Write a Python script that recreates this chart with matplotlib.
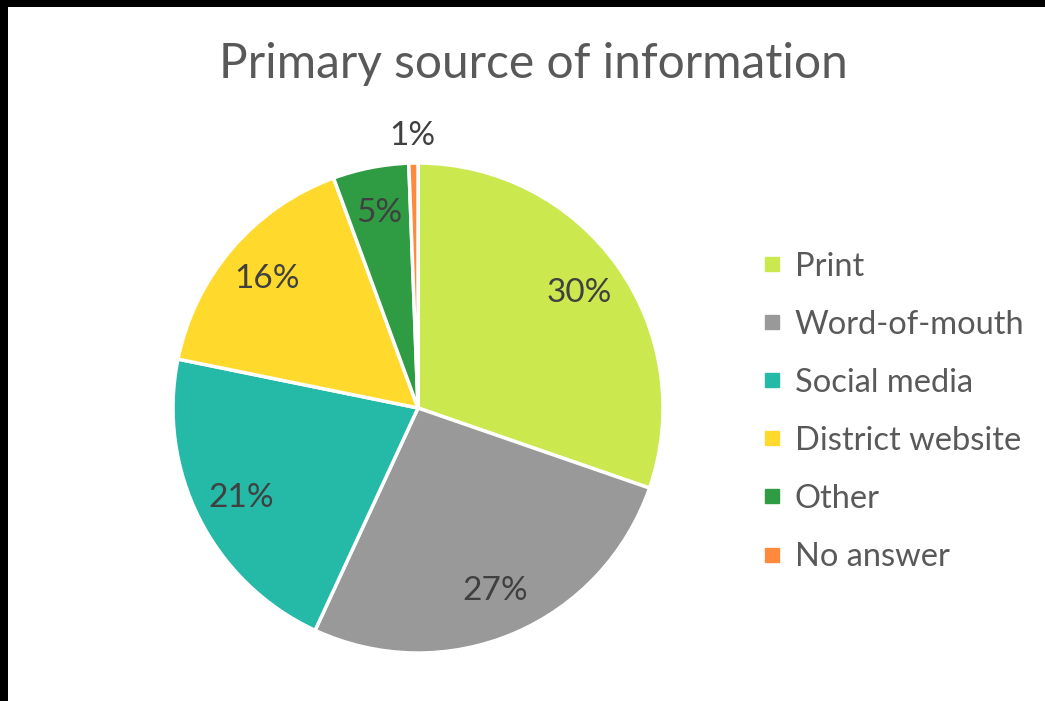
import matplotlib
matplotlib.use("Agg")
import matplotlib.pyplot as plt
from matplotlib.patches import Rectangle
from matplotlib.lines import Line2D
import numpy as np

plt.rcParams['font.family'] = ['Lato', 'DejaVu Sans']

sources = ['Print', 'Word-of-mouth', 'Social media', 'District website', 'Other', 'No answer']
shares = [30.3, 26.6, 21.3, 16.2, 5.0, 0.6]
colors = ['#CBE94F', '#999999', '#25B9A7', '#FFD92B', '#2F9B43', '#FF8A3D']

fig = plt.figure(figsize=(10.45, 7.01), dpi=100)
fig.patch.set_facecolor('white')

# black strip at top and left, like the screenshot
fig.patches.append(Rectangle((0, 1 - 7 / 701), 1, 7 / 701, transform=fig.transFigure,
                             facecolor='black', edgecolor='none'))
fig.patches.append(Rectangle((0, 0), 8 / 1045, 1, transform=fig.transFigure,
                             facecolor='black', edgecolor='none'))

cx, cy, r = 418, 408, 245
ax = fig.add_axes([(cx - r) / 1045, (701 - cy - r) / 701, 2 * r / 1045, 2 * r / 701])
wedges, texts, pcts = ax.pie(shares, colors=colors, startangle=90, counterclock=False,
                             autopct='%.0f%%', pctdistance=0.81,
                             wedgeprops=dict(edgecolor='white', linewidth=2.5),
                             textprops=dict(color='#404040', fontsize=24))
ax.set_xlim(-1, 1)
ax.set_ylim(-1, 1)
ax.set_aspect('equal')

# smallest slice label sits outside
w = wedges[-1]
mid = np.deg2rad((w.theta1 + w.theta2) / 2)
pcts[-1].set_position((1.11 * np.cos(mid), 1.11 * np.sin(mid)))

fig.text(0.51, 0.908, 'Primary source of information', ha='center', va='center',
         fontsize=34.5, color='#595959')

handles = [Line2D([], [], marker='s', linestyle='none', markersize=10,
                  markerfacecolor=c, markeredgecolor=c) for c in colors]
leg = fig.legend(handles, sources, loc='upper left', bbox_to_anchor=(0.698, 0.683),
                 frameon=False, fontsize=23.5, labelcolor='#595959',
                 handletextpad=0.3, labelspacing=0.86, handlelength=0.8)

fig.savefig('out.png', dpi=100)
